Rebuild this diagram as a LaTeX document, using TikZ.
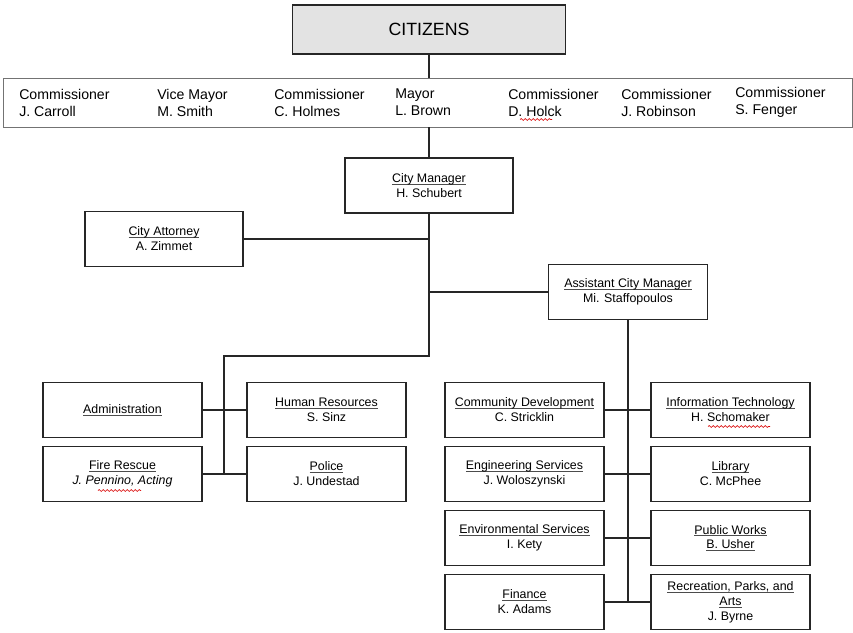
\documentclass[tikz,border=0pt]{standalone}
\usepackage{fontspec}
\setmainfont{Liberation Sans}
\usetikzlibrary{decorations.pathmorphing}
\newsavebox\ulbox
\newcommand{\uln}[1]{\sbox\ulbox{#1}\rlap{\color{black!70}\rule[-1.5pt]{\wd\ulbox}{0.5pt}}\usebox\ulbox}
\tikzset{
  box/.style={draw=black!85, line width=1.1pt, fill=white, inner sep=0pt, align=center,
    minimum width=119.25pt, minimum height=41.25pt, font=\fontsize{9.3}{11.2}\selectfont},
  conn/.style={draw=black!85, line width=1.2pt},
  comm/.style={anchor=west, align=left, inner sep=0pt, font=\fontsize{10.6}{12.8}\selectfont},
  squig/.style={draw=red!85!black, line width=0.5pt, decorate,
    decoration={snake, amplitude=0.7pt, segment length=3pt}}
}
\begin{document}
\begin{tikzpicture}[x=0.75pt,y=-0.75pt]
\useasboundingbox (0,0) rectangle (853,632);
% top
\node[draw=black!85, line width=1.1pt, fill=black!11, minimum width=204.75pt, minimum height=36.75pt,
  inner sep=0pt, font=\fontsize{13.3}{15}\selectfont] (cit) at (429,29.5) {CITIZENS};
\node[draw=black!55, line width=0.7pt, minimum width=636.75pt, minimum height=36.75pt, inner sep=0pt] (bar) at (427.5,102.5) {};
\node[comm] (c1) at (19,102.5) {Commissioner\\J. Carroll};
\node[comm] (c2) at (157,102.5) {Vice Mayor\\M. Smith};
\node[comm] (c3) at (274,102.5) {Commissioner\\C. Holmes};
\node[comm] (c4) at (395,102.5) {Mayor\\L. Brown};
\node[comm] (c5) at (508,102.5) {Commissioner\\D. Holck};
\node[comm] (c6) at (621,102.5) {Commissioner\\J. Robinson};
\node[comm] (c7) at (735,102.5) {Commissioner\\S. Fenger};
% management
\node[box, minimum width=126pt] (cm) at (429,185.5) {\uln{City Manager}\\H. Schubert};
\node[box, minimum width=118.5pt] (ca) at (164,239) {\uln{City Attorney}\\A. Zimmet};
\node[box] (acm) at (628,292) {\uln{Assistant City Manager}\\Mi. Staffopoulos};
% left departments
\node[box] (adm) at (122.5,410) {\uln{Administration}};
\node[box] (hr) at (326.5,410) {\uln{Human Resources}\\S. Sinz};
\node[box] (fire) at (122.5,474) {\uln{Fire Rescue}\\\textit{J. Pennino, Acting}};
\node[box] (pol) at (326.5,474) {\uln{Police}\\J. Undestad};
% right departments
\node[box] (cd) at (524.5,410) {\uln{Community Development}\\C. Stricklin};
\node[box] (it) at (730.5,410) {\uln{Information Technology}\\H. Schomaker};
\node[box] (eng) at (524.5,474) {\uln{Engineering Services}\\J. Woloszynski};
\node[box] (lib) at (730.5,474) {\uln{Library}\\C. McPhee};
\node[box] (env) at (524.5,538) {\uln{Environmental Services}\\I. Kety};
\node[box] (pw) at (730.5,538) {\uln{Public Works}\\\uln{B. Usher}};
\node[box] (fin) at (524.5,602) {\uln{Finance}\\K. Adams};
\node[box] (rec) at (730.5,602) {\uln{Recreation, Parks, and}\\\uln{Arts}\\J. Byrne};
% connectors
\coordinate (j1) at (429,356);
\coordinate (jl) at (224,474);
\draw[conn] (cit.south) -- (cit.south |- bar.north);
\draw[conn] (cm.north |- bar.south) -- (cm.north);
\draw[conn] (cm.south) -- (j1) -| (jl);
\draw[conn] (ca.east) -- (ca.east -| cm.south);
\draw[conn] (acm.west) -- (acm.west -| cm.south);
\draw[conn] (adm.east) -- (hr.west);
\draw[conn] (fire.east) -- (pol.west);
\draw[conn] (acm.south) -- (acm.south |- fin.east);
\draw[conn] (cd.east) -- (it.west);
\draw[conn] (eng.east) -- (lib.west);
\draw[conn] (env.east) -- (pw.west);
\draw[conn] (fin.east) -- (rec.west);
% spell-check squiggles
\draw[squig] (520,119.5) -- (552,119.5);
\draw[squig] (708,426.5) -- (770,426.5);
\draw[squig] (98,490.5) -- (141,490.5);
\end{tikzpicture}
\end{document}
